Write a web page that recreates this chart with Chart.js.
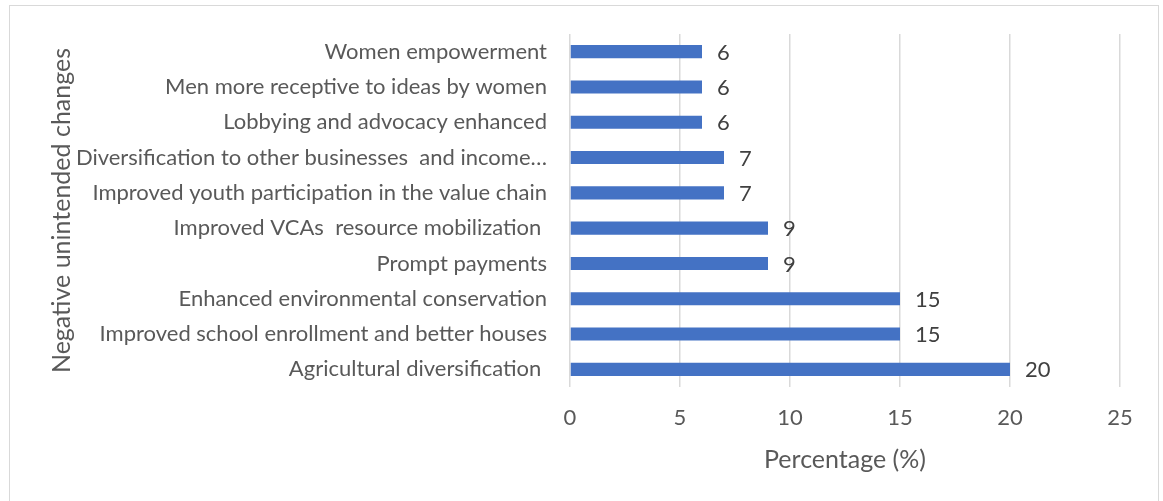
<!DOCTYPE html>
<html>
<head>
<meta charset="utf-8">
<script src="https://cdn.jsdelivr.net/npm/chart.js@4/dist/chart.umd.min.js"></script>
<style>
  html, body { margin: 0; padding: 0; background: #fff; }
  #frame {
    position: absolute; left: 9px; top: 5px; width: 1150px; height: 520px;
    border: 1.5px solid #d9d9d9; box-sizing: border-box;
  }
  #wrap { position: absolute; left: 0; top: 0; width: 1163px; height: 501px; }
</style>
</head>
<body>
<div id="frame"></div>
<div id="wrap"><canvas id="chart"></canvas></div>
<script>
const changes = [
  'Women empowerment',
  'Men more receptive to ideas by women',
  'Lobbying and advocacy enhanced',
  'Diversification to other businesses  and income\u2026',
  'Improved youth participation in the value chain',
  'Improved VCAs  resource mobilization ',
  'Prompt payments',
  'Enhanced environmental conservation',
  'Improved school enrollment and better houses',
  'Agricultural diversification '
]
const percentages = [6, 6, 6, 7, 7, 9, 9, 15, 15, 20]
const xTicks = [0, 5, 10, 15, 20, 25]

const FONT = 'Lato'
const grey = '#595959'

// value labels to the right of each bar
const barValues = {
  id: 'barValues',
  afterDatasetsDraw(chart) {
    const ctx = chart.ctx
    const meta = chart.getDatasetMeta(0)
    ctx.save()
    ctx.font = '22px ' + FONT
    ctx.fillStyle = '#404040'
    ctx.textAlign = 'left'
    ctx.textBaseline = 'middle'
    meta.data.forEach((bar, i) => {
      ctx.fillText(String(percentages[i]), bar.x + 15, bar.y + 1)
    })
    ctx.restore()
  }
}

new Chart(document.getElementById('chart'), {
  type: 'bar',
  data: {
    labels: changes,
    datasets: [{
      data: percentages,
      backgroundColor: '#4472c4',
      categoryPercentage: 1,
      barPercentage: 0.37,
    }]
  },
  plugins: [barValues],
  options: {
    indexAxis: 'y',
    responsive: true,
    maintainAspectRatio: false,
    animation: false,
    layout: {padding: {top: 34, right: 43, left: 0, bottom: 0}},
    plugins: {legend: {display: false}, tooltip: {enabled: false}},
    scales: {
      x: {
        min: 0,
        max: 25,
        afterBuildTicks: (scale) => { scale.ticks = xTicks.map(v => ({value: v})) },
        afterFit: (scale) => { scale.height = 114 },
        grid: {color: '#d9d9d9', lineWidth: 1.5, drawTicks: false},
        border: {display: false},
        ticks: {color: grey, font: {family: FONT, size: 22}, padding: 18},
        title: {
          display: true,
          text: 'Percentage (%)',
          color: grey,
          font: {family: FONT, size: 25},
          padding: {top: 0, bottom: 26}
        }
      },
      y: {
        afterFit: (scale) => { scale.width = 570 },
        grid: {display: false},
        border: {display: false},
        ticks: {color: grey, font: {family: FONT, size: 22}, padding: 15, autoSkip: false},
        title: {
          display: true,
          text: 'Negative unintended changes',
          color: grey,
          font: {family: FONT, size: 25},
          padding: {top: 47, bottom: 0}
        }
      }
    }
  }
})
</script>
</body>
</html>
